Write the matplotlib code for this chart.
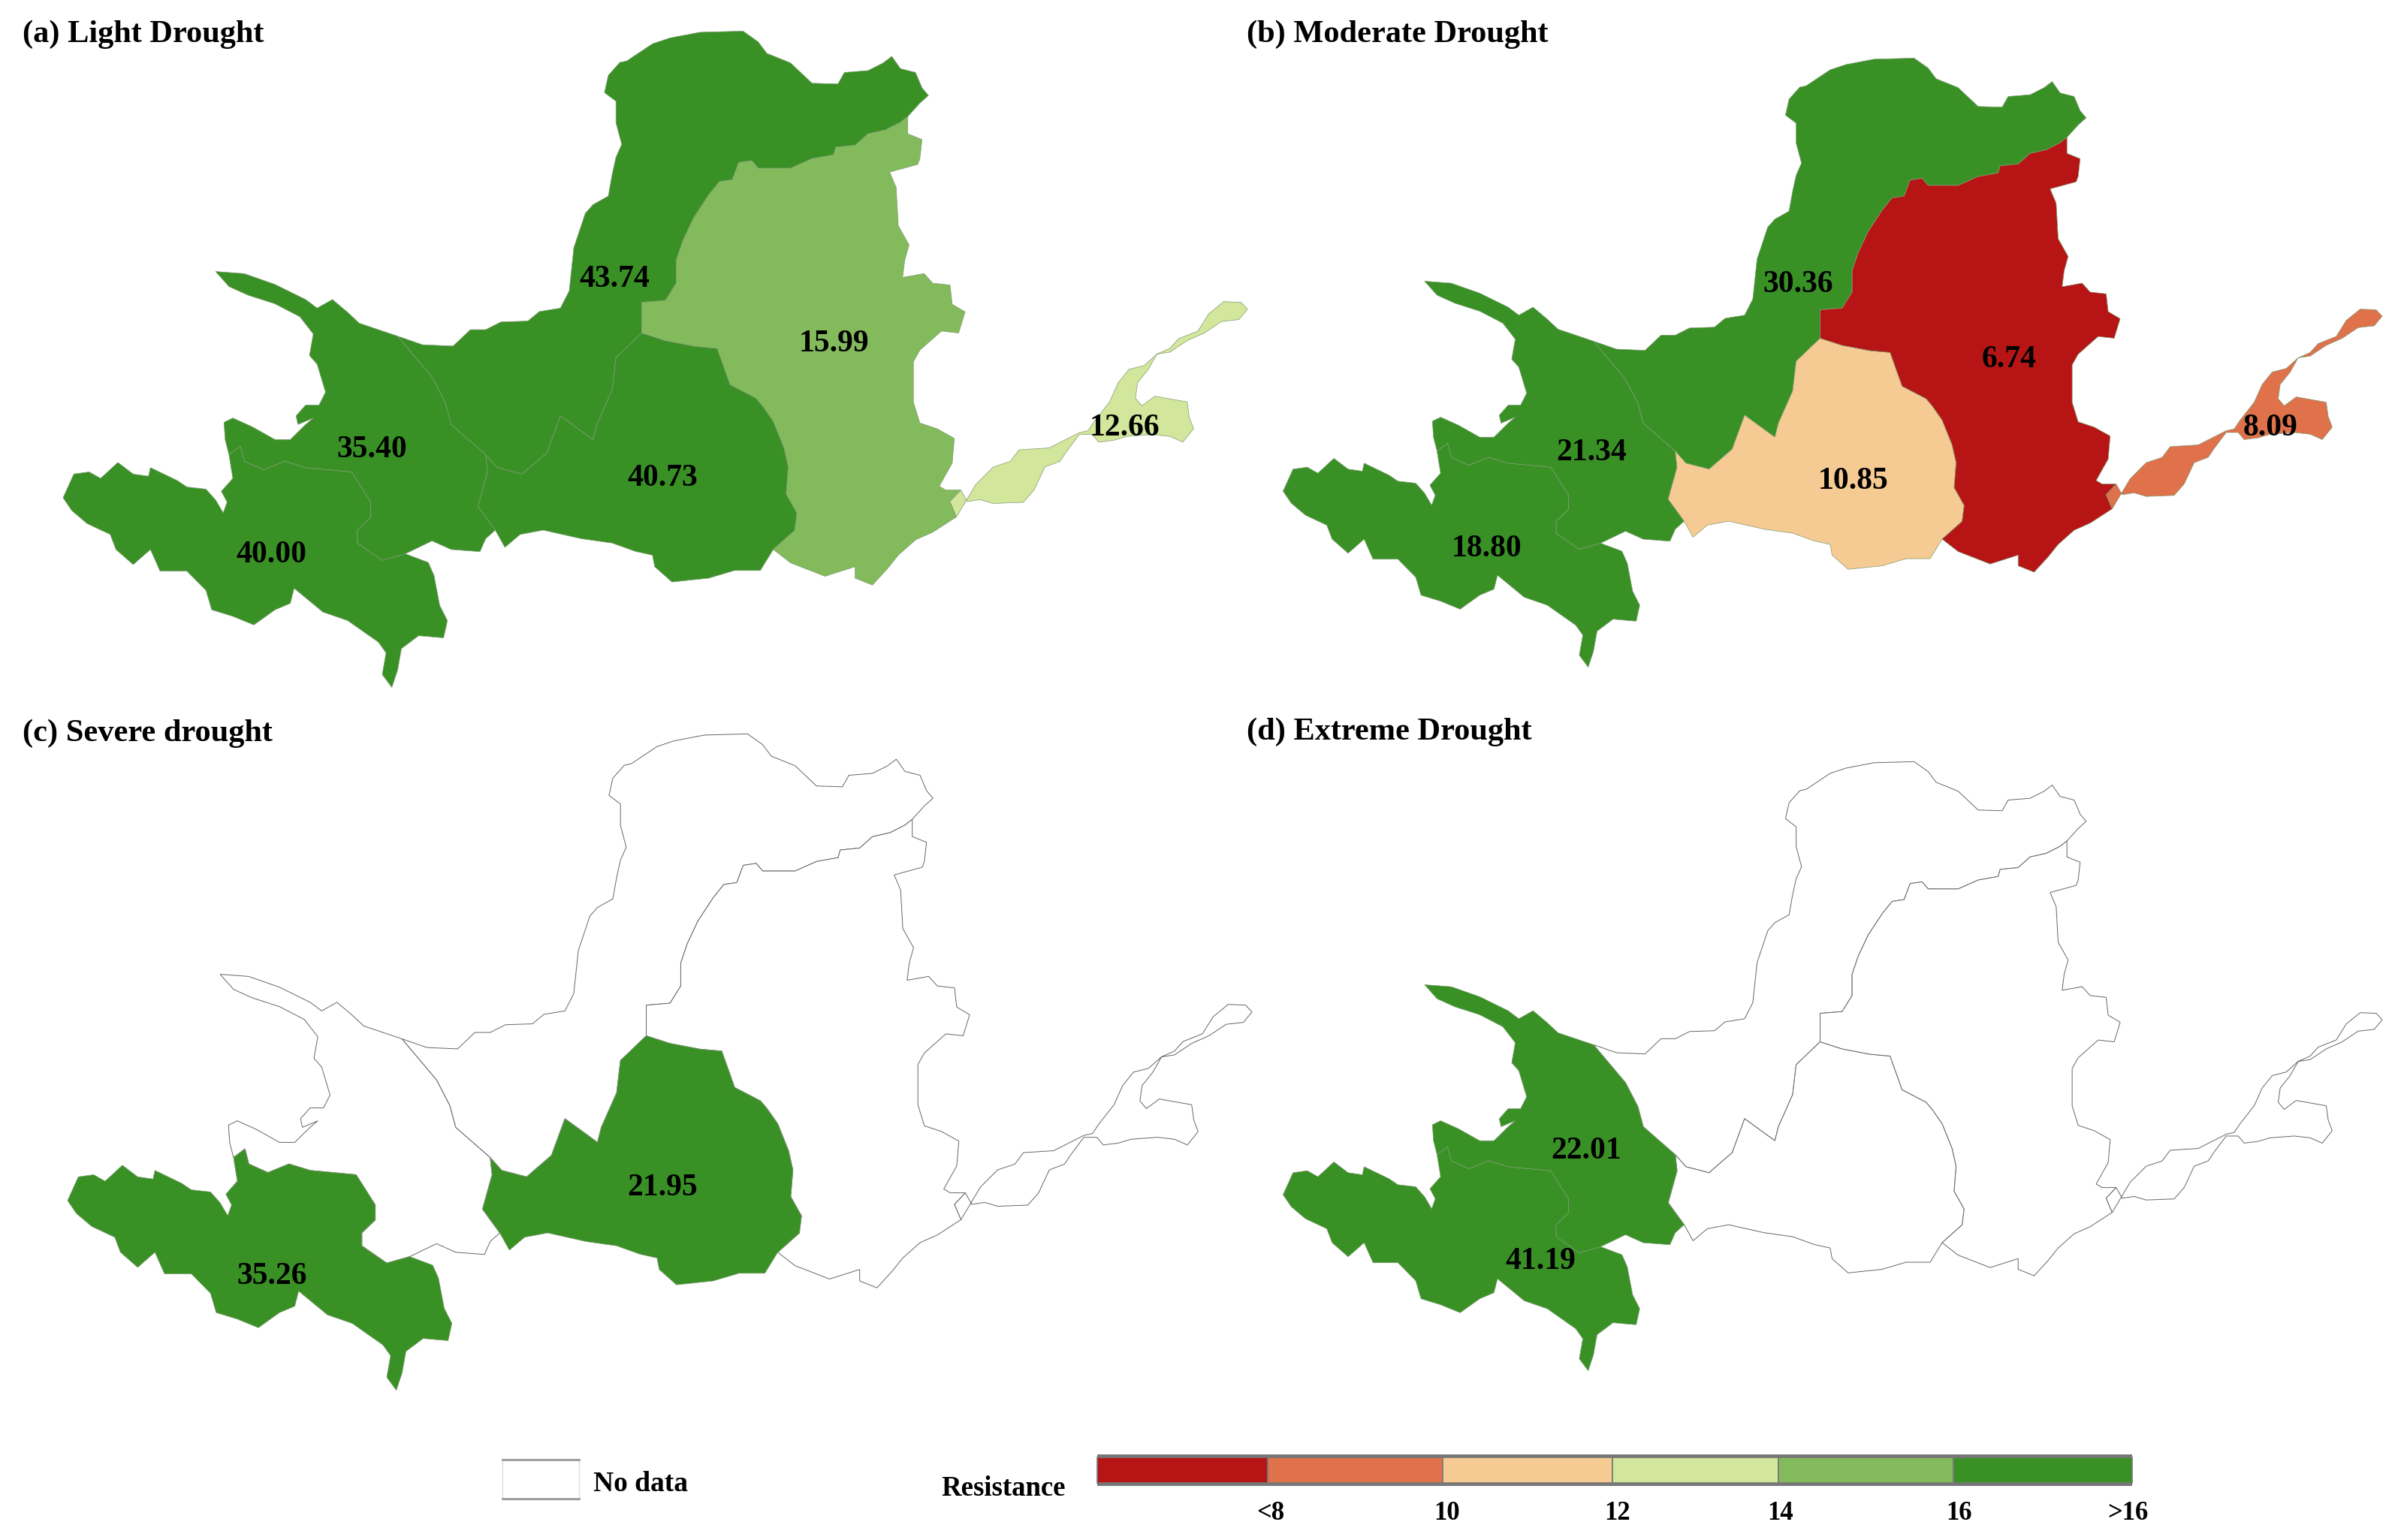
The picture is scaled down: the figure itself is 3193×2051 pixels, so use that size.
import matplotlib
matplotlib.use("Agg")
import matplotlib.pyplot as plt
from matplotlib.colors import BoundaryNorm, ListedColormap
from matplotlib.patches import Polygon, Rectangle

W, H = 3193, 2051


# outlines were traced on two crops of panel (a), these put them back in pixels
def left(pts):
    return [(60 + x / 1.96, 20 + y / 1.742) for x, y in pts]


def right(pts):
    return [(800 + x / 1.742, 20 + y / 1.96) for x, y in pts]


border_r1_r2 = left([(510, 1000), (520, 1035), (570, 1055), (625, 1035), (680, 1050), (800, 1060), (850, 1130),
                     (850, 1165), (815, 1195), (815, 1225), (880, 1265), (940, 1250)])
r1_outer = left([(1000, 1270), (1015, 1300), (1030, 1370), (1050, 1405), (1040, 1445), (975, 1440), (930, 1470),
                 (920, 1520), (905, 1560), (880, 1530), (890, 1480), (870, 1455), (790, 1405), (725, 1385),
                 (650, 1330), (640, 1365), (600, 1380), (545, 1415), (490, 1395), (435, 1380), (420, 1335),
                 (370, 1290), (300, 1290), (275, 1240), (230, 1275), (185, 1240), (170, 1205), (110, 1180),
                 (70, 1150), (47, 1120), (75, 1065), (115, 1060), (145, 1075), (190, 1038), (230, 1065),
                 (270, 1070), (275, 1050), (345, 1080), (370, 1095), (420, 1100), (445, 1125), (465, 1155),
                 (475, 1130), (460, 1105), (490, 1075), (480, 1020)])
r2_west = left([(480, 1020), (470, 985), (467, 945), (490, 935), (540, 955), (600, 985), (640, 985), (680, 950),
                (700, 935), (660, 950), (655, 930), (680, 905), (715, 905), (732, 875), (710, 810), (690, 790),
                (700, 740), (665, 700), (600, 670), (530, 650), (480, 630), (445, 595), (520, 600), (600, 625),
                (680, 660), (710, 680), (750, 660), (790, 690), (820, 715), (920, 745)])
border_r2_r3 = left([(920, 745), (1010, 840), (1045, 900), (1060, 950), (1150, 1020)])
border_r2_r4 = left([(1150, 1020), (1155, 1060), (1130, 1140), (1175, 1195)])
r2_south = left([(1150, 1215), (1135, 1245), (1060, 1240), (1010, 1220)])
r3_west = left([(985, 765), (1065, 768), (1110, 730), (1150, 730), (1190, 712), (1260, 710), (1290, 688),
                (1345, 680), (1368, 640), (1380, 540), (1410, 460), (1430, 440), (1470, 420), (1480, 370),
                (1490, 330), (1505, 300), (1490, 250), (1490, 200), (1460, 180), (1470, 140), (1500, 110)])
r3_top = right([(60, 120), (120, 75), (160, 60), (230, 45), (330, 42), (365, 70), (385, 100), (440, 125),
                (490, 178), (550, 180), (565, 150), (620, 145), (655, 125), (675, 108), (695, 140), (730, 150),
                (745, 190), (760, 210), (740, 230)])
border_r3_r5 = right([(712, 265), (695, 280), (660, 300), (620, 310), (590, 340), (545, 345), (540, 365),
                      (490, 375), (440, 400), (365, 400), (350, 380), (320, 385), (305, 430), (275, 435),
                      (250, 470), (215, 530), (190, 590), (175, 640), (175, 700), (150, 745), (95, 750),
                      (95, 830)])
border_r3_r4 = [right([(95, 830)])[0]] + left([(1490, 795), (1480, 870), (1440, 950), (1430, 985), (1345, 930),
                                               (1310, 1015), (1245, 1065), (1180, 1050), (1150, 1020)])
border_r4_r5 = right([(95, 830), (150, 850), (220, 865), (270, 870), (300, 965), (360, 1000), (375, 1020),
                      (400, 1060), (425, 1130), (435, 1180), (430, 1250), (455, 1300), (450, 1345), (400, 1395)])
r4_south = right([(370, 1450), (310, 1450), (250, 1470), (165, 1480), (125, 1440), (120, 1410), (80, 1400)]) \
    + left([(1480, 1225), (1400, 1215), (1300, 1195), (1240, 1205), (1200, 1235)])
r5_east = right([(712, 310), (745, 325), (740, 375), (735, 390), (670, 410), (685, 450), (690, 550), (700, 570),
                 (715, 600), (705, 640), (700, 685), (750, 675), (770, 700), (810, 705), (815, 755), (845, 775),
                 (830, 830), (790, 825), (740, 875), (725, 905), (725, 1010), (740, 1065), (780, 1080),
                 (820, 1105), (815, 1170), (785, 1230)])
border_r5_r6 = right([(785, 1230), (800, 1240), (835, 1240), (810, 1270), (825, 1310)])
r5_south = right([(770, 1350), (730, 1370), (690, 1410), (665, 1445), (630, 1488), (590, 1470), (590, 1440),
                  (520, 1465), (440, 1430)])
r6_rest = right([(870, 1225), (910, 1180), (950, 1165), (970, 1135), (1040, 1130), (1110, 1090), (1130, 1085),
                 (1145, 1060), (1180, 1010), (1200, 960), (1225, 925), (1260, 915), (1290, 885), (1320, 870),
                 (1340, 845), (1385, 825), (1410, 780), (1445, 748), (1485, 750), (1500, 768), (1480, 795),
                 (1440, 800), (1400, 830), (1360, 850), (1320, 880), (1290, 885), (1270, 925), (1245, 960),
                 (1240, 1000), (1255, 1020), (1285, 995), (1360, 1010), (1365, 1050), (1375, 1080), (1350, 1115),
                 (1320, 1100), (1280, 1095), (1220, 1100), (1190, 1110), (1155, 1115), (1140, 1095), (1110, 1095),
                 (1080, 1140), (1065, 1165), (1030, 1180), (1005, 1240), (980, 1272), (910, 1275), (880, 1265),
                 (850, 1270)])

regions = {
    "r1": border_r1_r2 + r1_outer,
    "r2": r2_west + border_r2_r3 + border_r2_r4 + r2_south + border_r1_r2[::-1],
    "r3": r3_west + r3_top + border_r3_r5 + border_r3_r4 + border_r2_r3[::-1],
    "r4": border_r4_r5 + r4_south + border_r2_r4[::-1] + border_r3_r4[::-1],
    "r5": border_r3_r5[::-1] + r5_east + border_r5_r6[1:] + r5_south + border_r4_r5[::-1],
    "r6": border_r5_r6[2:] + r6_rest,
}

# resistance values per region, a missing region = no data
values_a = {"r1": 40.00, "r2": 35.40, "r3": 43.74, "r4": 40.73, "r5": 15.99, "r6": 12.66}
values_b = {"r1": 18.80, "r2": 21.34, "r3": 30.36, "r4": 10.85, "r5": 6.74, "r6": 8.09}
values_c = {"r1": 35.26, "r4": 21.95}
values_d = {"r1": 41.19, "r2": 22.01}

labels_a = {"r1": (361, 739), "r2": (495, 599), "r3": (818, 372), "r4": (882, 637), "r5": (1110, 458), "r6": (1497, 570)}
labels_b = {"r1": (1979, 731), "r2": (2119, 603), "r3": (2394, 379), "r4": (2468, 641), "r5": (2675, 479), "r6": (3023, 570)}
labels_c = {"r1": (362, 1700), "r4": (882, 1582)}
labels_d = {"r1": (2051, 1680), "r2": (2112, 1533)}

titles = ["(a) Light Drought", "(b) Moderate Drought", "(c) Severe drought", "(d) Extreme Drought"]
title_xy = [(30, 46), (1660, 46), (30, 977), (1660, 975)]

# panel placement: scale, x origin, y origin of the traced map
panels = [(1.0, 83.5, 41.0), (0.928, 1708.0, 77.0), (1.0, 89.5, 977.0), (0.928, 1708.0, 1014.0)]

class_colors = ["#B71515", "#DF714B", "#F6CB93", "#D2E69C", "#83BB5C", "#399126"]
class_bounds = [0, 8, 10, 12, 14, 16, 100]
class_edges = [1461, 1688, 1921, 2147, 2368, 2601, 2839]
class_labels = ["<8", "10", "12", "14", "16", ">16"]
class_label_x = [1692, 1927, 2154, 2371, 2609, 2833]

cmap = ListedColormap(class_colors)
norm = BoundaryNorm(class_bounds, cmap.N)

plt.rcParams["font.family"] = ["Liberation Serif", "DejaVu Serif"]
plt.rcParams["font.weight"] = "bold"

fig = plt.figure(figsize=(W / 100, H / 100), dpi=100)
ax = fig.add_axes([0, 0, 1, 1])
ax.set_xlim(0, W)
ax.set_ylim(H, 0)
ax.axis("off")


def place(pts, panel):
    s, x0, y0 = panel
    return [(x0 + s * (x - 83.5), y0 + s * (y - 41.0)) for x, y in pts]


def draw_panel(values, labels, panel):
    # empty regions first so the coloured ones sit on top of their lines
    for name, pts in regions.items():
        if name not in values:
            ax.add_patch(Polygon(place(pts, panel), closed=True, facecolor="white", edgecolor="#666666", lw=0.7))
    for name, pts in regions.items():
        if name in values:
            ax.add_patch(Polygon(place(pts, panel), closed=True, facecolor=cmap(norm(values[name])),
                                 edgecolor="#7f9a72", lw=0.5))
    for name, (x, y) in labels.items():
        ax.text(x, y, f"{values[name]:.2f}", fontsize=30, ha="center", va="center", color="black")


all_values = [values_a, values_b, values_c, values_d]
all_labels = [labels_a, labels_b, labels_c, labels_d]
for vals, labs, panel in zip(all_values, all_labels, panels):
    draw_panel(vals, labs, panel)

for title, (x, y) in zip(titles, title_xy):
    ax.text(x, y, title, fontsize=30.5, ha="left", va="center", color="black")

# legends
ax.add_patch(Rectangle((669, 1943), 102, 54, facecolor="white", edgecolor="#dddddd", lw=1))
ax.plot([669, 771], [1944, 1944], color="#999999", lw=2)
ax.plot([669, 771], [1996, 1996], color="#999999", lw=2)
ax.text(790, 1977, "No data", fontsize=27, ha="left", va="center")
ax.text(1336, 1982, "Resistance", fontsize=26.5, ha="center", va="center")
ax.add_patch(Rectangle((1461, 1937), 1378, 42, facecolor="#777777", edgecolor="none"))
for i, color in enumerate(class_colors):
    ax.add_patch(Rectangle((class_edges[i], 1941), class_edges[i + 1] - class_edges[i], 34,
                           facecolor=color, edgecolor="#777777", lw=1.2))
for x, lab in zip(class_label_x, class_labels):
    ax.text(x, 2016, lab, fontsize=25, ha="center", va="center")

fig.savefig("out.png", dpi=100)
